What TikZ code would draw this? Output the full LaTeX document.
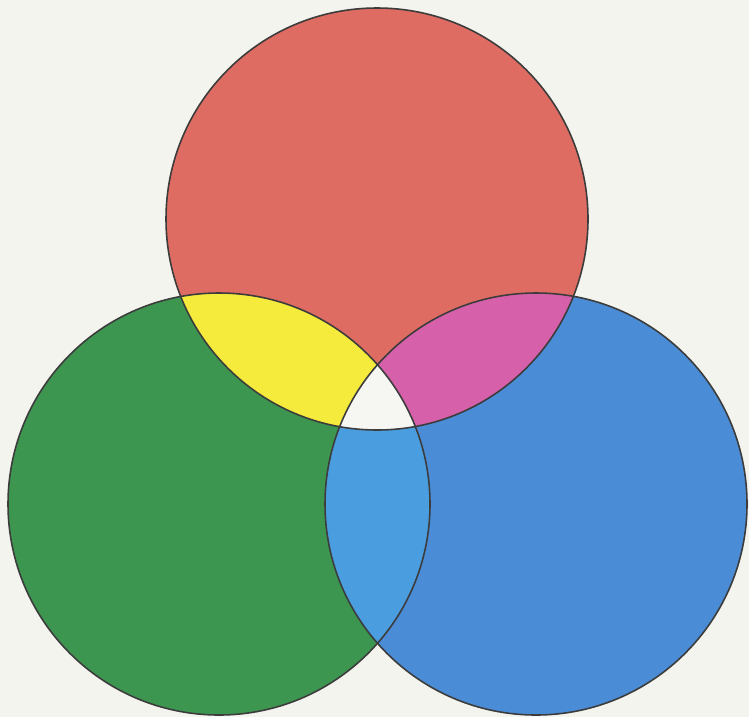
\documentclass[tikz,border=0pt]{standalone}
\usepackage{tikz}
\usetikzlibrary{backgrounds}
\definecolor{paper}{RGB}{243,244,238}
\definecolor{redc}{RGB}{222,108,98}
\definecolor{greenc}{RGB}{60,150,80}
\definecolor{bluec}{RGB}{74,140,214}
\definecolor{yellowc}{RGB}{245,235,60}
\definecolor{magentac}{RGB}{214,96,170}
\definecolor{cyanc}{RGB}{74,158,224}
\definecolor{centrec}{RGB}{246,246,243}
\definecolor{rim}{RGB}{60,60,60}
\tikzset{
  rimline/.style={draw=rim, line width=0.9pt},
  disc/.style={radius=211}
}

\begin{document}
\begin{tikzpicture}[x=0.02cm, y=-0.02cm]
\fill[paper] (0,0) rectangle (749,717);
\useasboundingbox (0,0) rectangle (749,717);
\coordinate (red) at (377,219);
\coordinate (green) at (219,504);
\coordinate (blue) at (536,504);
% the three discs
\fill[redc] (red) circle[disc];
\fill[greenc] (green) circle[disc];
\fill[bluec] (blue) circle[disc];
% pairwise overlaps
\begin{scope}
  \clip (red) circle[disc];
  \fill[yellowc] (green) circle[disc];
  \fill[magentac] (blue) circle[disc];
\end{scope}
\begin{scope}
  \clip (green) circle[disc];
  \fill[cyanc] (blue) circle[disc];
  \clip (blue) circle[disc];
  \fill[centrec] (red) circle[disc];
\end{scope}
% outlines
\draw[rimline] (red) circle[disc];
\draw[rimline] (green) circle[disc];
\draw[rimline] (blue) circle[disc];
\end{tikzpicture}
\end{document}
